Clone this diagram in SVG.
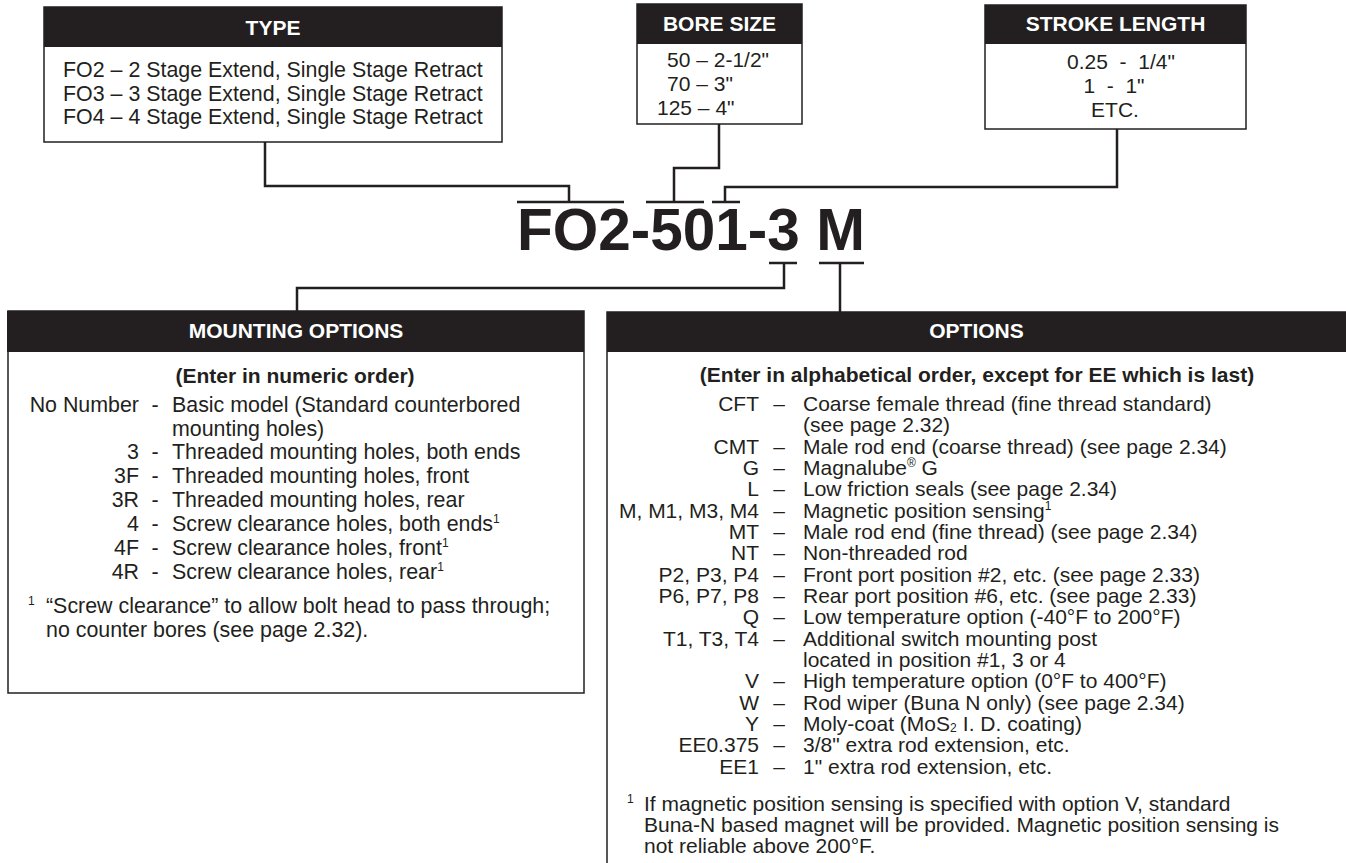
<svg xmlns="http://www.w3.org/2000/svg" width="1346" height="863" viewBox="0 0 1346 863">
<style>
text{font-family:"Liberation Sans",Arial,Helvetica,sans-serif;fill:#231f20;font-size:21px}
.lg{font-size:21.4px}
.hd{fill:#231f20}
.box{fill:#fff;stroke:#231f20;stroke-width:1.5}
.ht{fill:#fff;font-weight:bold;text-anchor:middle}
.b{font-weight:bold}
.m{text-anchor:middle}
.e{text-anchor:end}
.sup{font-size:12px}
.sub{font-size:12px}
.code{font-size:58.5px;font-weight:bold}
.conn{fill:none;stroke:#231f20;stroke-width:2.5}
</style>
<rect width="1346" height="863" fill="#fff"/>

<g id="connectors">
<path class="conn" d="M265,142 V186 H569 V202 M517,202 H624"/>
<path class="conn" d="M719,124 V168 H674 V202 M646,202 H704"/>
<path class="conn" d="M1117,129 V187 H725 V202 M712,202 H740"/>
<path class="conn" d="M769,263 H797 M784,263 V288 H297 V311"/>
<path class="conn" d="M819,263 H864 M840,263 V312"/>
</g>

<g id="type">
<rect class="box" x="44" y="7" width="458" height="135"/>
<rect class="hd" x="44" y="7" width="458" height="40"/>
<text class="ht" x="273" y="35">TYPE</text>
<text class="lg" x="63" y="77">FO2 – 2 Stage Extend, Single Stage Retract</text>
<text class="lg" x="63" y="101">FO3 – 3 Stage Extend, Single Stage Retract</text>
<text class="lg" x="63" y="124">FO4 – 4 Stage Extend, Single Stage Retract</text>
</g>

<g id="bore">
<rect class="box" x="637" y="4" width="165" height="120"/>
<rect class="hd" x="637" y="4" width="165" height="40"/>
<text class="ht" x="719.5" y="31">BORE SIZE</text>
<text x="667" y="67">50 – 2-1/2"</text>
<text x="667" y="91">70 – 3"</text>
<text x="657" y="115">125 – 4"</text>
</g>

<g id="stroke">
<rect class="box" x="985" y="5" width="261" height="124"/>
<rect class="hd" x="985" y="5" width="261" height="39"/>
<text class="ht" x="1115.5" y="31">STROKE LENGTH</text>
<text class="m" x="1121" y="69">0.25 &#160;- &#160;1/4"</text>
<text class="m" x="1114" y="93">1 &#160;- &#160;1"</text>
<text class="m" x="1115" y="117">ETC.</text>
</g>

<g id="code">
<text class="code" x="517" y="250">FO2-501-3 M</text>
</g>

<g id="mounting">
<rect class="box" x="8" y="311" width="576" height="382"/>
<rect class="hd" x="7" y="311" width="577" height="41"/>
<text class="ht" x="296" y="338">MOUNTING OPTIONS</text>
<text class="b m" x="295" y="383">(Enter in numeric order)</text>
<text class="e lg" x="139" y="412">No Number</text>
<text class="m lg" x="155" y="412">-</text>
<text class="lg" x="172" y="412">Basic model (Standard counterbored</text>
<text class="lg" x="172" y="436">mounting holes)</text>
<text class="e lg" x="139" y="459">3</text><text class="m lg" x="155" y="459">-</text><text class="lg" x="172" y="459">Threaded mounting holes, both ends</text>
<text class="e lg" x="139" y="483">3F</text><text class="m lg" x="155" y="483">-</text><text class="lg" x="172" y="483">Threaded mounting holes, front</text>
<text class="e lg" x="139" y="507">3R</text><text class="m lg" x="155" y="507">-</text><text class="lg" x="172" y="507">Threaded mounting holes, rear</text>
<text class="e lg" x="139" y="531">4</text><text class="m lg" x="155" y="531">-</text><text class="lg" x="172" y="531">Screw clearance holes, both ends<tspan class="sup" dy="-8">1</tspan></text>
<text class="e lg" x="139" y="555">4F</text><text class="m lg" x="155" y="555">-</text><text class="lg" x="172" y="555">Screw clearance holes, front<tspan class="sup" dy="-8">1</tspan></text>
<text class="e lg" x="139" y="579">4R</text><text class="m lg" x="155" y="579">-</text><text class="lg" x="172" y="579">Screw clearance holes, rear<tspan class="sup" dy="-8">1</tspan></text>
<text class="sup" x="28" y="605">1</text>
<text class="lg" x="46" y="613">“Screw clearance” to allow bolt head to pass through;</text>
<text class="lg" x="46" y="637">no counter bores (see page 2.32).</text>
</g>

<g id="options">
<rect class="box" x="607" y="312" width="760" height="570"/>
<rect class="hd" x="607" y="312" width="760" height="40"/>
<text class="ht" x="976.5" y="338">OPTIONS</text>
<text class="b m" x="977" y="382">(Enter in alphabetical order, except for EE which is last)</text>
<text class="e" x="759" y="411">CFT</text><text class="m" x="779" y="411">–</text><text x="803" y="411">Coarse female thread (fine thread standard)</text>
<text x="803" y="432.3">(see page 2.32)</text>
<text class="e" x="759" y="453.7">CMT</text><text class="m" x="779" y="453.7">–</text><text x="803" y="453.7">Male rod end (coarse thread) (see page 2.34)</text>
<text class="e" x="759" y="475">G</text><text class="m" x="779" y="475">–</text><text x="803" y="475">Magnalube<tspan class="sup" dy="-8">®</tspan><tspan dy="8"> G</tspan></text>
<text class="e" x="759" y="496.3">L</text><text class="m" x="779" y="496.3">–</text><text x="803" y="496.3">Low friction seals (see page 2.34)</text>
<text class="e" x="759" y="517.7">M, M1, M3, M4</text><text class="m" x="779" y="517.7">–</text><text x="803" y="517.7">Magnetic position sensing<tspan class="sup" dy="-8">1</tspan></text>
<text class="e" x="759" y="539">MT</text><text class="m" x="779" y="539">–</text><text x="803" y="539">Male rod end (fine thread) (see page 2.34)</text>
<text class="e" x="759" y="560.3">NT</text><text class="m" x="779" y="560.3">–</text><text x="803" y="560.3">Non-threaded rod</text>
<text class="e" x="759" y="581.7">P2, P3, P4</text><text class="m" x="779" y="581.7">–</text><text x="803" y="581.7">Front port position #2, etc. (see page 2.33)</text>
<text class="e" x="759" y="603">P6, P7, P8</text><text class="m" x="779" y="603">–</text><text x="803" y="603">Rear port position #6, etc. (see page 2.33)</text>
<text class="e" x="759" y="624.3">Q</text><text class="m" x="779" y="624.3">–</text><text x="803" y="624.3">Low temperature option (-40°F to 200°F)</text>
<text class="e" x="759" y="645.7">T1, T3, T4</text><text class="m" x="779" y="645.7">–</text><text x="803" y="645.7">Additional switch mounting post</text>
<text x="803" y="667">located in position #1, 3 or 4</text>
<text class="e" x="759" y="688.3">V</text><text class="m" x="779" y="688.3">–</text><text x="803" y="688.3">High temperature option (0°F to 400°F)</text>
<text class="e" x="759" y="709.7">W</text><text class="m" x="779" y="709.7">–</text><text x="803" y="709.7">Rod wiper (Buna N only) (see page 2.34)</text>
<text class="e" x="759" y="731">Y</text><text class="m" x="779" y="731">–</text><text x="803" y="731">Moly-coat (MoS</text><text class="sub" x="950" y="732">2</text><text x="957" y="731">&#160;I. D. coating)</text>
<text class="e" x="759" y="752.3">EE0.375</text><text class="m" x="779" y="752.3">–</text><text x="803" y="752.3">3/8" extra rod extension, etc.</text>
<text class="e" x="759" y="773.7">EE1</text><text class="m" x="779" y="773.7">–</text><text x="803" y="773.7">1" extra rod extension, etc.</text>
<text class="sup" x="627" y="803">1</text>
<text x="644" y="811">If magnetic position sensing is specified with option V, standard</text>
<text x="644" y="832">Buna-N based magnet will be provided. Magnetic position sensing is</text>
<text x="644" y="853">not reliable above 200°F.</text>
</g>
</svg>
